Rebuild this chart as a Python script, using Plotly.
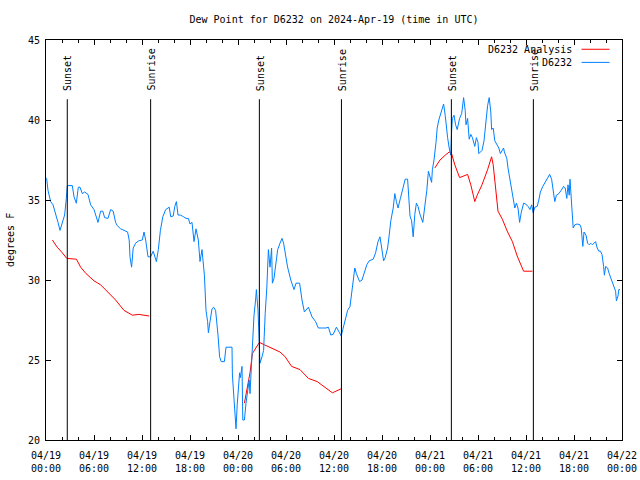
import pandas as pd
import plotly.graph_objects as go

# ---------------- data ----------------
start = pd.Timestamp("2024-04-19 00:00")

obs_hours = [0.0, 0.08, 0.25, 0.58, 0.875, 1.2, 1.5, 1.75, 2.04, 2.33, 2.54, 2.67, 3.0, 3.29, 3.5, 3.79,
             4.04, 4.25, 4.54, 4.83, 5.25, 5.58, 6.0, 6.2, 6.5, 6.83, 7.1, 7.33, 7.75, 8.08, 8.4, 8.7,
             8.9, 9.33, 9.75, 10.2, 10.4, 10.5, 10.7, 10.9, 11.2, 11.6, 12.04, 12.25, 12.46, 12.75,
             13.08, 13.4, 13.8, 14.04, 14.3, 14.6, 14.96, 15.4, 15.6, 15.9, 16.1, 16.3, 16.5, 16.8,
             17.2, 17.5, 17.8, 18.0, 18.25, 18.5, 18.75, 19.04, 19.25, 19.5, 19.8, 20.0, 20.2, 20.3,
             20.5, 20.75, 20.96, 21.2, 21.5, 21.7, 21.9, 22.3, 22.5, 22.9, 23.25, 23.3, 23.5, 23.75,
             23.9, 24.04, 24.2, 24.3, 24.5, 24.6, 24.8, 25.0, 25.2, 25.4, 25.5, 25.7, 25.8, 26.0,
             26.2, 26.3, 26.5, 26.6, 26.75, 27.0, 27.2, 27.4, 27.6, 27.8, 28.0, 28.2, 28.3, 28.5,
             28.75, 28.96, 29.25, 29.5, 29.7, 29.9, 30.2, 30.6, 31.0, 31.25, 31.7, 32.0, 32.3, 32.8,
             33.25, 33.7, 34.04, 34.6, 35.0, 35.3, 35.6, 35.9, 36.3, 36.7, 36.9, 37.1, 37.4, 37.7,
             38.0, 38.2, 38.4, 38.6, 38.8, 39.2, 39.5, 39.75, 40.1, 40.4, 40.9, 41.2, 41.5, 41.75,
             41.96, 42.2, 42.4, 42.7, 42.9, 43.1, 43.4, 43.6, 43.8, 44.0, 44.3, 44.6, 44.9, 45.2,
             45.4, 45.5, 45.7, 45.9, 46.1, 46.3, 46.5, 46.75, 47.1, 47.4, 47.6, 47.8, 48.0, 48.2,
             48.3, 48.5, 48.75, 48.9, 49.1, 49.4, 49.7, 49.9, 50.0, 50.2, 50.4, 50.6, 50.7, 50.8,
             51.0, 51.2, 51.4, 51.7, 51.96, 52.2, 52.4, 52.5, 52.7, 52.9, 53.1, 53.3, 53.6, 53.8,
             54.0, 54.1, 54.3, 54.5, 54.75, 54.96, 55.2, 55.4, 55.6, 55.7, 55.9, 56.1, 56.3, 56.6,
             56.8, 57.04, 57.2, 57.3, 57.6, 57.75, 57.96, 58.2, 58.4, 58.6, 58.8, 59.0, 59.2, 59.4,
             59.7, 59.96, 60.25, 60.5, 60.7, 60.9, 61.1, 61.4, 61.6, 61.8, 62.1, 62.4, 62.7, 62.96,
             63.2, 63.4, 63.6, 63.8, 64.1, 64.4, 64.7, 64.9, 65.1, 65.25, 65.4, 65.5, 65.7, 65.8,
             65.9, 66.1, 66.4, 66.75, 66.9, 67.1, 67.25, 67.5, 67.7, 67.9, 68.1, 68.3, 68.5, 68.7,
             68.9, 69.1, 69.3, 69.5, 69.7, 69.8, 69.96, 70.2, 70.4, 70.6, 70.8, 71.0, 71.2, 71.3,
             71.5, 71.6, 71.75]
obs_dewpoint = [36.4, 36.35, 35.6, 34.9, 34.7, 34.2, 33.6, 33.1, 33.6, 34.06, 35.1, 35.9, 35.9, 35.9, 35.2, 34.8,
                35.8, 35.8, 35.4, 35.5, 35.35, 34.7, 34.4, 34.06, 33.6, 34.3, 34.3, 33.9, 33.85, 34.4, 34.3, 33.6,
                33.4, 33.2, 33.1, 33.0, 32.5, 31.45, 30.8, 32.0, 32.3, 32.45, 32.5, 33.0, 32.5, 31.45,
                31.45, 31.8, 31.15, 31.9, 33.1, 33.95, 34.4, 34.55, 33.95, 34.0, 34.6, 34.9, 34.06, 34.06,
                33.95, 33.85, 33.85, 33.5, 33.6, 32.4, 33.2, 32.5, 31.15, 31.9, 30.3, 28.1, 27.4, 26.7,
                27.4, 28.2, 28.3, 28.1, 26.56, 25.2, 24.9, 24.9, 25.8, 25.8, 25.8, 24.06, 22.7, 20.7,
                22.2, 23.0, 24.2, 23.9, 24.6, 21.25, 21.25, 22.3, 23.1, 23.75, 22.9, 24.8, 25.8, 27.8,
                28.75, 29.4, 28.1, 26.4, 24.8, 25.2, 25.6, 27.9, 29.5, 31.9, 30.8, 32.0, 29.8, 30.1,
                31.25, 31.9, 32.3, 32.6, 32.3, 31.7, 30.8, 30.0, 29.4, 29.8, 29.8, 28.75, 28.0, 28.3,
                27.7, 27.4, 27.0, 27.0, 27.0, 27.05, 26.56, 26.6, 27.05, 26.7, 26.5, 26.9, 27.5, 28.1,
                28.35, 29.2, 30.1, 30.75, 30.4, 29.9, 30.0, 30.4, 30.95, 31.2, 31.3, 31.7, 32.4, 32.7,
                32.0, 31.2, 31.4, 32.0, 32.8, 33.7, 34.5, 35.4, 34.9, 34.5, 35.1, 35.75, 36.3, 36.3,
                35.0, 34.0, 33.7, 32.7, 34.1, 34.8, 34.6, 34.1, 33.6, 34.7, 35.6, 36.8, 36.4, 36.1,
                36.9, 37.5, 38.6, 39.5, 40.0, 40.5, 41.0, 40.3, 39.7, 38.9, 38.25, 37.8, 39.3, 40.1,
                40.3, 39.7, 39.4, 40.1, 40.4, 41.4, 40.6, 39.7, 40.1, 38.8, 39.1, 38.9, 38.35, 38.9,
                38.6, 37.9, 38.0, 38.1, 38.7, 39.8, 40.9, 41.4, 40.5, 39.4, 39.5, 38.7, 38.5, 38.25,
                37.9, 38.1, 38.25, 38.0, 37.6, 37.0, 36.4, 35.75, 35.1, 34.5, 34.8, 34.5, 33.6, 34.2,
                34.8, 34.75, 34.6, 34.4, 34.7, 34.2, 34.55, 34.6, 35.0, 35.5, 35.85, 36.1, 36.4, 36.6,
                36.3, 35.6, 34.9, 35.3, 35.4, 35.6, 35.85, 35.75, 35.1, 35.95, 35.3, 36.3, 35.0, 34.1,
                33.25, 33.45, 33.5, 33.45, 33.25, 32.1, 33.0, 32.8, 32.3, 32.2, 32.3, 32.2, 32.3, 32.4,
                32.0, 31.8, 31.8, 31.6, 30.85, 30.3, 30.85, 30.75, 30.4, 30.1, 29.8, 29.5, 29.3, 28.7,
                29.0, 29.4, 29.4]

# analysis series: three nighttime segments (None = gap)
ana_hours = [0.8, 1.4, 2.04, 2.6, 3.8, 4.33, 5.0, 6.0, 6.83, 7.67, 8.7, 9.75, 10.8, 11.6, 12.25, 12.9,
             None,
             24.8, 25.2, 25.5, 25.8, 26.3, 26.67, 27.3, 28.0, 29.25, 29.9, 30.7, 31.75, 32.8, 33.9,
             34.9, 35.8, 36.9,
             None,
             48.6, 49.25, 49.9, 50.4, 50.7, 51.1, 51.7, 52.2, 52.7, 53.1, 53.6, 53.9, 54.5, 55.2,
             55.7, 55.9, 56.2, 56.5, 57.04, 57.7, 58.3, 58.9, 59.7, 60.8]
ana_dewpoint = [32.5, 32.05, 31.7, 31.35, 31.3, 30.8, 30.4, 29.95, 29.7, 29.3, 28.75, 28.1, 27.8, 27.85, 27.8, 27.75,
                None,
                22.3, 23.3, 24.2, 25.4, 25.8, 26.1, 25.95, 25.8, 25.5, 25.2, 24.6, 24.4, 23.85, 23.65,
                23.3, 22.95, 23.2,
                None,
                37.0, 37.5, 37.8, 38.0, 37.9, 37.2, 36.4, 36.5, 36.6, 35.95, 34.9, 35.3, 35.95, 36.9,
                37.7, 37.2, 35.75, 34.3, 33.8, 33.0, 32.4, 31.5, 30.55, 30.55]

sun_hours = [2.66, 13.08, 26.67, 36.93, 50.67, 60.92]
sun_labels = ["Sunset", "Sunrise", "Sunset", "Sunrise", "Sunset", "Sunrise"]

tick_hours = [0, 6, 12, 18, 24, 30, 36, 42, 48, 54, 60, 66, 72]
tick_labels = ["04/19<br>00:00", "04/19<br>06:00", "04/19<br>12:00", "04/19<br>18:00",
               "04/20<br>00:00", "04/20<br>06:00", "04/20<br>12:00", "04/20<br>18:00",
               "04/21<br>00:00", "04/21<br>06:00", "04/21<br>12:00", "04/21<br>18:00",
               "04/22<br>00:00"]

series_names = ["D6232 Analysis", "D6232"]
series_colors = ["#ff0000", "#0080ff"]


def to_time(hours):
    return [None if h is None else start + pd.Timedelta(hours=h) for h in hours]


FONT = "DejaVu Sans Mono"
fig = go.Figure()

fig.add_trace(go.Scatter(x=to_time(ana_hours), y=ana_dewpoint, mode="lines",
                         name=series_names[0], line=dict(color=series_colors[0], width=1),
                         connectgaps=False, showlegend=False))
fig.add_trace(go.Scatter(x=to_time(obs_hours), y=obs_dewpoint, mode="lines",
                         name=series_names[1], line=dict(color=series_colors[1], width=1),
                         showlegend=False))

# sunrise / sunset lines
for h, lab in zip(sun_hours, sun_labels):
    t = start + pd.Timedelta(hours=h)
    fig.add_shape(type="line", xref="x", yref="y", x0=t, x1=t, y0=20, y1=41.3,
                  line=dict(color="black", width=1))
    fig.add_annotation(x=t, y=41.7, xref="x", yref="y", text=lab, showarrow=False,
                       textangle=-90, yanchor="bottom", xanchor="center", xshift=1,
                       font=dict(family=FONT, size=10, color="black"))

# legend drawn gnuplot-style: text right-aligned, sample line to the right
leg_y = [0.9768, 0.944]
for name, col, yy in zip(series_names, series_colors, leg_y):
    fig.add_annotation(x=0.9175, y=yy, xref="paper", yref="paper", text=name,
                       showarrow=False, xanchor="right", yanchor="middle",
                       font=dict(family=FONT, size=10, color="black"))
    fig.add_shape(type="line", xref="paper", yref="paper", x0=0.9297, x1=0.9783,
                  y0=yy, y1=yy, line=dict(color=col, width=1))

fig.add_annotation(x=-0.0625, y=0.5, xref="paper", yref="paper", text="degrees F",
                   showarrow=False, textangle=-90, xanchor="center", yanchor="middle",
                   font=dict(family=FONT, size=10, color="black"))

fig.update_layout(
    width=640, height=480,
    margin=dict(l=46, r=18, t=40, b=40, autoexpand=False),
    paper_bgcolor="white", plot_bgcolor="white",
    font=dict(family=FONT, size=10, color="black"),
    title=dict(text="Dew Point for D6232 on 2024-Apr-19 (time in UTC)", x=0.5, xref="paper",
               xanchor="center", y=1 - 19 / 480, yanchor="middle",
               font=dict(family=FONT, size=10, color="black")),
    showlegend=False,
)

fig.update_xaxes(
    type="date",
    automargin=False,
    range=[start, start + pd.Timedelta(hours=72)],
    tickmode="array",
    tickvals=to_time(tick_hours),
    ticktext=tick_labels,
    ticks="inside", ticklen=5, tickcolor="black", tickwidth=1,
    ticklabelstandoff=6,
    minor=dict(tickmode="linear", tick0=start, dtick=2 * 3600 * 1000, ticks="inside",
               ticklen=3, tickcolor="black", showgrid=False),
    showline=True, linecolor="black", linewidth=1, mirror="allticks",
    showgrid=False, zeroline=False,
    tickfont=dict(family=FONT, size=10, color="black"),
)
fig.update_yaxes(
    automargin=False,
    range=[20, 45],
    tickmode="linear", tick0=20, dtick=5,
    ticks="inside", ticklen=5, tickcolor="black", tickwidth=1,
    ticklabelstandoff=3,
    showline=True, linecolor="black", linewidth=1, mirror="allticks",
    showgrid=False, zeroline=False,
    tickfont=dict(family=FONT, size=10, color="black"),
)

fig.write_html("out.html", config={"displayModeBar": False},
               post_script="document.body.style.margin='0';")
